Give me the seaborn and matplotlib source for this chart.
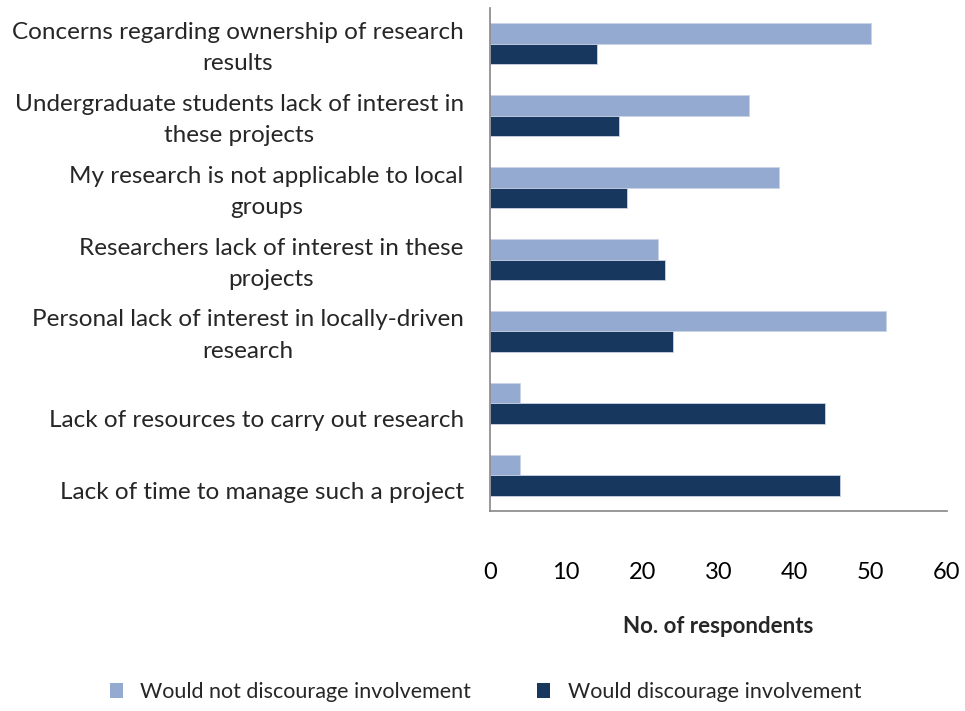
import matplotlib
matplotlib.use("Agg")
import matplotlib.pyplot as plt
import matplotlib.transforms as mtransforms
import seaborn as sns
import pandas as pd
from matplotlib.patches import Patch

categories = [
    "Concerns regarding ownership of research\nresults",
    "Undergraduate students lack of interest in\nthese projects",
    "My research is not applicable to local\ngroups",
    "Researchers lack of interest in these\nprojects",
    "Personal lack of interest in locally-driven\nresearch",
    "Lack of resources to carry out research",
    "Lack of time to manage such a project",
]
would_not_discourage = [50, 34, 38, 22, 52, 4, 4]
would_discourage = [14, 17, 18, 23, 24, 44, 46]
series_names = ["Would not discourage involvement", "Would discourage involvement"]
x_ticks = [0, 10, 20, 30, 40, 50, 60]

colors = ["#95AAD0", "#17375E"]

df = pd.DataFrame({
    "category": categories * 2,
    "value": would_not_discourage + would_discourage,
    "series": [series_names[0]] * len(categories) + [series_names[1]] * len(categories),
})

sns.set_theme(style="white")
plt.rcParams["font.family"] = ["Lato", "DejaVu Sans"]

fig = plt.figure(figsize=(9.65, 7.11), dpi=100)
ax = fig.add_axes([0.5078, 0.2813, 0.4735, 0.7074])

sns.barplot(data=df, y="category", x="value", hue="series", hue_order=series_names,
            order=categories, palette=colors, orient="h", width=0.57,
            saturation=1, ax=ax, legend=False, edgecolor="#C9D3E6", linewidth=0.6)

ax.set_xlim(0, 60)
ax.set_xticks(x_ticks)
ax.set_xticklabels([str(t) for t in x_ticks], fontsize=17)
ax.tick_params(axis="x", length=0, pad=37, colors="#000000")
ax.tick_params(axis="y", length=0, pad=19)
for lbl in ax.get_yticklabels():
    lbl.set_fontsize(17.5)
    lbl.set_multialignment("center")
    lbl.set_linespacing(1.6)
    # single-line labels sit a line lower, two-line labels slightly higher
    dy = -15 if "\n" not in lbl.get_text() else 3
    lbl.set_transform(lbl.get_transform() +
                      mtransforms.ScaledTranslation(0, dy / 100, fig.dpi_scale_trans))

ax.set_ylabel("")
ax.set_xlabel("No. of respondents", fontsize=16, fontweight="bold", labelpad=23.5)

for side in ["top", "right"]:
    ax.spines[side].set_visible(False)
for side in ["left", "bottom"]:
    ax.spines[side].set_color("#868686")
    ax.spines[side].set_linewidth(1.2)

handles = [Patch(facecolor=c, edgecolor="none") for c in colors]
fig.legend(handles, series_names, loc="center", bbox_to_anchor=(0.503, 0.027),
           ncol=2, frameon=False, fontsize=15.5, handlelength=0.6, handleheight=0.7,
           handletextpad=0.8, columnspacing=3.1)

fig.savefig("out.png", dpi=100, facecolor="white")
